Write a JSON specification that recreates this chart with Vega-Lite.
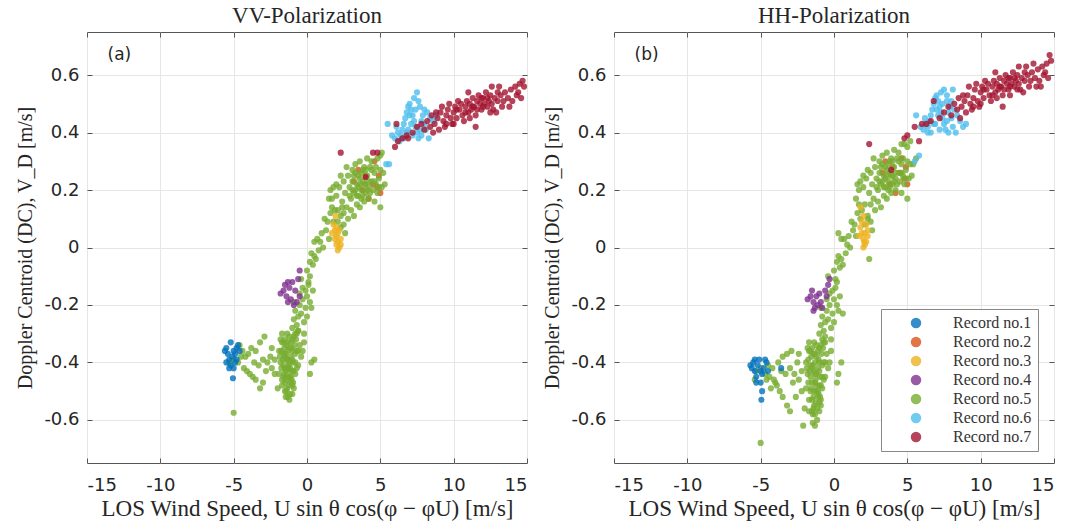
{
"$schema": "https://vega.github.io/schema/vega-lite/v6.json",
"padding": {"left": 15, "top": 4, "right": 5, "bottom": 3},
"spacing": 14,
"datasets": {
"vv": [
{"r":2,"x":3.5,"y":0.27},{"r":2,"x":4.0,"y":0.25},{"r":2,"x":4.5,"y":0.22},{"r":2,"x":4.8,"y":0.21},{"r":2,"x":5.0,"y":0.19},{"r":2,"x":4.6,"y":0.30},{"r":2,"x":3.8,"y":0.2},{"r":2,"x":4.2,"y":0.17},{"r":2,"x":3.2,"y":0.23},{"r":2,"x":4.9,"y":0.25},
{"r":5,"x":-5.3,"y":-0.40},{"r":5,"x":-5.0,"y":-0.39},{"r":5,"x":-4.7,"y":-0.40},{"r":5,"x":-4.5,"y":-0.38},{"r":5,"x":-4.4,"y":-0.36},{"r":5,"x":-4.2,"y":-0.38},{"r":5,"x":-4.0,"y":-0.37},{"r":5,"x":-4.3,"y":-0.42},{"r":5,"x":-4.1,"y":-0.43},{"r":5,"x":-3.9,"y":-0.44},{"r":5,"x":-3.7,"y":-0.45},{"r":5,"x":-3.5,"y":-0.46},{"r":5,"x":-3.2,"y":-0.49},{"r":5,"x":-3.0,"y":-0.47},{"r":5,"x":-3.8,"y":-0.35},{"r":5,"x":-3.5,"y":-0.36},{"r":5,"x":-3.2,"y":-0.33},{"r":5,"x":-2.9,"y":-0.31},{"r":5,"x":-3.0,"y":-0.39},{"r":5,"x":-2.7,"y":-0.40},{"r":5,"x":-2.5,"y":-0.38},{"r":5,"x":-2.8,"y":-0.43},{"r":5,"x":-3.3,"y":-0.41},{"r":5,"x":-3.6,"y":-0.40},{"r":5,"x":-2.4,"y":-0.35},{"r":5,"x":-2.2,"y":-0.44},{"r":5,"x":-2.0,"y":-0.49},{"r":5,"x":-4.6,"y":-0.34},{"r":5,"x":-5.0,"y":-0.575},
{"r":5,"x":-1.9,"y":-0.36},{"r":5,"x":-1.8,"y":-0.40},{"r":5,"x":-1.7,"y":-0.33},{"r":5,"x":-1.6,"y":-0.45},{"r":5,"x":-1.5,"y":-0.38},{"r":5,"x":-1.4,"y":-0.50},{"r":5,"x":-1.3,"y":-0.42},{"r":5,"x":-1.2,"y":-0.35},{"r":5,"x":-1.1,"y":-0.47},{"r":5,"x":-1.0,"y":-0.39},{"r":5,"x":-0.9,"y":-0.31},{"r":5,"x":-0.8,"y":-0.44},{"r":5,"x":-0.7,"y":-0.36},{"r":5,"x":-0.6,"y":-0.29},{"r":5,"x":-1.9,"y":-0.44},{"r":5,"x":-1.8,"y":-0.32},{"r":5,"x":-1.7,"y":-0.48},{"r":5,"x":-1.6,"y":-0.37},{"r":5,"x":-1.5,"y":-0.42},{"r":5,"x":-1.4,"y":-0.34},{"r":5,"x":-1.3,"y":-0.52},{"r":5,"x":-1.2,"y":-0.45},{"r":5,"x":-1.1,"y":-0.38},{"r":5,"x":-1.0,"y":-0.43},{"r":5,"x":-0.9,"y":-0.49},{"r":5,"x":-0.8,"y":-0.37},{"r":5,"x":-0.7,"y":-0.42},{"r":5,"x":-1.6,"y":-0.41},{"r":5,"x":-1.5,"y":-0.47},{"r":5,"x":-1.4,"y":-0.39},{"r":5,"x":-1.3,"y":-0.36},{"r":5,"x":-1.2,"y":-0.40},{"r":5,"x":-1.1,"y":-0.33},{"r":5,"x":-1.0,"y":-0.51},{"r":5,"x":-1.5,"y":-0.32},{"r":5,"x":-1.35,"y":-0.45},{"r":5,"x":-1.25,"y":-0.48},{"r":5,"x":-1.45,"y":-0.43},{"r":5,"x":-1.15,"y":-0.42},{"r":5,"x":-1.05,"y":-0.46},{"r":5,"x":-0.95,"y":-0.40},{"r":5,"x":-1.65,"y":-0.39},{"r":5,"x":-1.75,"y":-0.36},{"r":5,"x":-1.55,"y":-0.35},{"r":5,"x":-1.2,"y":-0.53},{"r":5,"x":-1.35,"y":-0.30},{"r":5,"x":-0.85,"y":-0.34},{"r":5,"x":-0.75,"y":-0.32},{"r":5,"x":-0.5,"y":-0.34},{"r":5,"x":-0.3,"y":-0.36},{"r":5,"x":-0.2,"y":-0.33},{"r":5,"x":-0.4,"y":-0.38},{"r":5,"x":0.3,"y":-0.40},{"r":5,"x":0.5,"y":-0.39},{"r":5,"x":0.2,"y":-0.44},{"r":5,"x":-0.6,"y":-0.41},{"r":5,"x":-2.2,"y":-0.39},{"r":5,"x":-2.4,"y":-0.42},{"r":5,"x":-1.7,"y":-0.46},{"r":5,"x":-1.0,"y":-0.36},
{"r":5,"x":-1.45,"y":-0.37},{"r":5,"x":-1.25,"y":-0.41},{"r":5,"x":-1.05,"y":-0.35},{"r":5,"x":-1.55,"y":-0.44},{"r":5,"x":-1.35,"y":-0.49},{"r":5,"x":-1.15,"y":-0.51},{"r":5,"x":-0.95,"y":-0.47},{"r":5,"x":-1.75,"y":-0.42},{"r":5,"x":-1.85,"y":-0.38},{"r":5,"x":-1.6,"y":-0.33},{"r":5,"x":-1.3,"y":-0.39},{"r":5,"x":-1.1,"y":-0.45},{"r":5,"x":-1.4,"y":-0.46},{"r":5,"x":-1.2,"y":-0.43},{"r":5,"x":-1.0,"y":-0.32},{"r":5,"x":-0.8,"y":-0.40},{"r":5,"x":-1.5,"y":-0.50},{"r":5,"x":-1.3,"y":-0.33},{"r":5,"x":-0.9,"y":-0.43},{"r":5,"x":-1.7,"y":-0.30},{"r":5,"x":-1.2,"y":-0.31},{"r":5,"x":-1.45,"y":-0.52},{"r":5,"x":-0.7,"y":-0.30},{"r":5,"x":-0.6,"y":-0.36},{"r":5,"x":-1.0,"y":-0.48},
{"r":5,"x":-1.0,"y":-0.28},{"r":5,"x":-0.9,"y":-0.25},{"r":5,"x":-0.8,"y":-0.22},{"r":5,"x":-0.7,"y":-0.27},{"r":5,"x":-0.6,"y":-0.24},{"r":5,"x":-0.5,"y":-0.20},{"r":5,"x":-0.4,"y":-0.23},{"r":5,"x":-0.3,"y":-0.18},{"r":5,"x":-0.2,"y":-0.26},{"r":5,"x":-0.1,"y":-0.21},{"r":5,"x":0.0,"y":-0.17},{"r":5,"x":0.1,"y":-0.13},{"r":5,"x":0.2,"y":-0.19},{"r":5,"x":-0.3,"y":-0.14},{"r":5,"x":-0.5,"y":-0.16},{"r":5,"x":-0.6,"y":-0.29},{"r":5,"x":-0.2,"y":-0.30},{"r":5,"x":0.0,"y":-0.24},{"r":5,"x":-0.8,"y":-0.30},{"r":5,"x":0.3,"y":-0.21},{"r":5,"x":-0.4,"y":-0.11},{"r":5,"x":-0.9,"y":-0.19},{"r":5,"x":-0.1,"y":-0.15},{"r":5,"x":0.4,"y":-0.15},{"r":5,"x":0.2,"y":-0.10},
{"r":5,"x":0.0,"y":-0.08},{"r":5,"x":0.2,"y":-0.05},{"r":5,"x":0.3,"y":-0.02},{"r":5,"x":0.5,"y":-0.03},{"r":5,"x":0.4,"y":-0.06},{"r":5,"x":0.6,"y":-0.04},{"r":5,"x":0.8,"y":-0.01},{"r":5,"x":0.7,"y":0.03},{"r":5,"x":0.9,"y":0.02},{"r":5,"x":1.0,"y":0.05},{"r":5,"x":1.1,"y":0.0},{"r":5,"x":1.3,"y":0.06},{"r":5,"x":1.4,"y":0.09},{"r":5,"x":1.5,"y":0.03},{"r":5,"x":1.2,"y":0.10},{"r":5,"x":1.6,"y":0.12},{"r":5,"x":1.7,"y":0.14},{"r":5,"x":1.8,"y":0.09},{"r":5,"x":1.9,"y":0.13},{"r":5,"x":2.1,"y":0.09},{"r":5,"x":2.3,"y":0.11},{"r":5,"x":2.5,"y":0.08},{"r":5,"x":2.6,"y":0.05},{"r":5,"x":0.5,"y":0.02},{"r":5,"x":0.1,"y":-0.12},{"r":5,"x":2.4,"y":0.14},{"r":5,"x":1.5,"y":0.17},
{"r":5,"x":1.6,"y":0.20},{"r":5,"x":1.7,"y":0.17},{"r":5,"x":2.0,"y":0.18},{"r":5,"x":2.2,"y":0.21},{"r":5,"x":2.4,"y":0.16},{"r":5,"x":2.5,"y":0.23},{"r":5,"x":2.6,"y":0.19},{"r":5,"x":2.7,"y":0.14},{"r":5,"x":2.8,"y":0.25},{"r":5,"x":2.9,"y":0.21},{"r":5,"x":3.0,"y":0.17},{"r":5,"x":3.1,"y":0.23},{"r":5,"x":3.2,"y":0.19},{"r":5,"x":3.3,"y":0.26},{"r":5,"x":3.4,"y":0.22},{"r":5,"x":3.5,"y":0.18},{"r":5,"x":3.6,"y":0.24},{"r":5,"x":3.7,"y":0.20},{"r":5,"x":3.8,"y":0.27},{"r":5,"x":3.9,"y":0.22},{"r":5,"x":4.0,"y":0.19},{"r":5,"x":4.1,"y":0.25},{"r":5,"x":4.2,"y":0.21},{"r":5,"x":4.3,"y":0.28},{"r":5,"x":4.4,"y":0.23},{"r":5,"x":4.5,"y":0.20},{"r":5,"x":4.6,"y":0.26},{"r":5,"x":4.7,"y":0.22},{"r":5,"x":4.8,"y":0.19},{"r":5,"x":4.9,"y":0.24},{"r":5,"x":5.0,"y":0.27},{"r":5,"x":5.1,"y":0.21},{"r":5,"x":5.2,"y":0.26},{"r":5,"x":3.0,"y":0.13},{"r":5,"x":3.2,"y":0.11},{"r":5,"x":3.4,"y":0.15},{"r":5,"x":2.8,"y":0.10},{"r":5,"x":3.6,"y":0.14},{"r":5,"x":3.9,"y":0.16},{"r":5,"x":4.2,"y":0.17},{"r":5,"x":4.6,"y":0.16},{"r":5,"x":5.0,"y":0.14},{"r":5,"x":5.3,"y":0.22},{"r":5,"x":2.5,"y":0.12},{"r":5,"x":3.3,"y":0.29},{"r":5,"x":3.6,"y":0.30},{"r":5,"x":4.1,"y":0.31},{"r":5,"x":4.4,"y":0.30},{"r":5,"x":4.8,"y":0.31},{"r":5,"x":5.0,"y":0.32},{"r":5,"x":5.1,"y":0.33},{"r":5,"x":3.1,"y":0.27},{"r":5,"x":2.7,"y":0.28},{"r":5,"x":2.3,"y":0.25},{"r":5,"x":1.8,"y":0.21},{"r":5,"x":3.5,"y":0.21},{"r":5,"x":3.8,"y":0.23},{"r":5,"x":4.0,"y":0.22},{"r":5,"x":3.7,"y":0.17},{"r":5,"x":4.3,"y":0.19},{"r":5,"x":3.9,"y":0.28},{"r":5,"x":4.7,"y":0.28},{"r":5,"x":2.1,"y":0.13},{"r":5,"x":2.3,"y":0.07},{"r":5,"x":2.0,"y":0.22},
{"r":5,"x":3.3,"y":0.20},{"r":5,"x":3.5,"y":0.25},{"r":5,"x":3.7,"y":0.26},{"r":5,"x":4.0,"y":0.27},{"r":5,"x":4.2,"y":0.23},{"r":5,"x":4.4,"y":0.27},{"r":5,"x":3.8,"y":0.18},{"r":5,"x":3.4,"y":0.18},{"r":5,"x":3.1,"y":0.20},{"r":5,"x":2.9,"y":0.18},{"r":5,"x":4.6,"y":0.23},{"r":5,"x":4.9,"y":0.21},{"r":5,"x":3.6,"y":0.22},{"r":5,"x":4.1,"y":0.20},{"r":5,"x":3.2,"y":0.25},
{"r":1,"x":-5.6,"y":-0.36},{"r":1,"x":-5.5,"y":-0.35},{"r":1,"x":-5.4,"y":-0.37},{"r":1,"x":-5.3,"y":-0.39},{"r":1,"x":-5.2,"y":-0.41},{"r":1,"x":-5.1,"y":-0.38},{"r":1,"x":-5.0,"y":-0.36},{"r":1,"x":-4.9,"y":-0.37},{"r":1,"x":-4.8,"y":-0.35},{"r":1,"x":-4.7,"y":-0.34},{"r":1,"x":-4.6,"y":-0.36},{"r":1,"x":-5.0,"y":-0.42},{"r":1,"x":-5.3,"y":-0.42},{"r":1,"x":-5.5,"y":-0.40},{"r":1,"x":-4.9,"y":-0.40},{"r":1,"x":-5.05,"y":-0.455},{"r":1,"x":-5.2,"y":-0.33},{"r":1,"x":-4.8,"y":-0.39},
{"r":3,"x":1.8,"y":0.08},{"r":3,"x":1.9,"y":0.06},{"r":3,"x":2.0,"y":0.04},{"r":3,"x":2.1,"y":0.02},{"r":3,"x":2.2,"y":0.0},{"r":3,"x":2.0,"y":0.01},{"r":3,"x":2.1,"y":0.05},{"r":3,"x":1.9,"y":0.03},{"r":3,"x":2.3,"y":0.03},{"r":3,"x":2.2,"y":0.06},{"r":3,"x":2.0,"y":0.07},{"r":3,"x":2.1,"y":-0.01},{"r":3,"x":1.7,"y":0.05},{"r":3,"x":2.3,"y":0.01},{"r":3,"x":1.95,"y":0.11},
{"r":4,"x":-1.8,"y":-0.16},{"r":4,"x":-1.6,"y":-0.15},{"r":4,"x":-1.5,"y":-0.13},{"r":4,"x":-1.4,"y":-0.17},{"r":4,"x":-1.3,"y":-0.19},{"r":4,"x":-1.2,"y":-0.14},{"r":4,"x":-1.1,"y":-0.18},{"r":4,"x":-1.0,"y":-0.12},{"r":4,"x":-0.9,"y":-0.2},{"r":4,"x":-0.8,"y":-0.15},{"r":4,"x":-0.6,"y":-0.11},{"r":4,"x":-0.5,"y":-0.08},{"r":4,"x":-0.7,"y":-0.19},{"r":4,"x":-1.3,"y":-0.12},{"r":4,"x":-0.5,"y":-0.17},
{"r":6,"x":5.5,"y":0.43},{"r":6,"x":5.8,"y":0.39},{"r":6,"x":6.0,"y":0.38},{"r":6,"x":6.2,"y":0.40},{"r":6,"x":6.3,"y":0.37},{"r":6,"x":6.5,"y":0.41},{"r":6,"x":6.6,"y":0.43},{"r":6,"x":6.7,"y":0.45},{"r":6,"x":6.8,"y":0.47},{"r":6,"x":6.9,"y":0.49},{"r":6,"x":7.0,"y":0.50},{"r":6,"x":7.1,"y":0.48},{"r":6,"x":7.2,"y":0.46},{"r":6,"x":7.3,"y":0.44},{"r":6,"x":7.4,"y":0.42},{"r":6,"x":7.5,"y":0.40},{"r":6,"x":7.6,"y":0.38},{"r":6,"x":7.7,"y":0.41},{"r":6,"x":7.8,"y":0.44},{"r":6,"x":7.9,"y":0.46},{"r":6,"x":8.0,"y":0.48},{"r":6,"x":8.2,"y":0.47},{"r":6,"x":8.4,"y":0.45},{"r":6,"x":8.6,"y":0.44},{"r":6,"x":8.8,"y":0.46},{"r":6,"x":7.5,"y":0.54},{"r":6,"x":7.3,"y":0.52},{"r":6,"x":7.6,"y":0.51},{"r":6,"x":7.0,"y":0.46},{"r":6,"x":6.9,"y":0.41},{"r":6,"x":7.2,"y":0.39},{"r":6,"x":7.8,"y":0.39},{"r":6,"x":8.1,"y":0.41},{"r":6,"x":8.3,"y":0.38},{"r":6,"x":6.4,"y":0.39},{"r":6,"x":6.1,"y":0.42},{"r":6,"x":7.4,"y":0.48},{"r":6,"x":7.7,"y":0.49},{"r":6,"x":8.0,"y":0.43},{"r":6,"x":6.6,"y":0.38},{"r":6,"x":5.6,"y":0.29},{"r":6,"x":5.4,"y":0.29},{"r":6,"x":7.1,"y":0.43},{"r":6,"x":6.8,"y":0.40},
{"r":7,"x":2.3,"y":0.33},{"r":7,"x":4.5,"y":0.33},{"r":7,"x":4.8,"y":0.33},{"r":7,"x":4.0,"y":0.245},{"r":7,"x":6.0,"y":0.35},{"r":7,"x":6.2,"y":0.37},{"r":7,"x":6.5,"y":0.38},{"r":7,"x":6.9,"y":0.38},
{"r":7,"x":6.1,"y":0.43},{"r":7,"x":6.8,"y":0.39},{"r":7,"x":7.2,"y":0.40},{"r":7,"x":7.5,"y":0.42},{"r":7,"x":7.8,"y":0.43},{"r":7,"x":8.0,"y":0.41},{"r":7,"x":8.2,"y":0.44},{"r":7,"x":8.4,"y":0.42},{"r":7,"x":8.5,"y":0.46},{"r":7,"x":8.7,"y":0.43},{"r":7,"x":8.9,"y":0.45},{"r":7,"x":9.0,"y":0.41},{"r":7,"x":9.1,"y":0.47},{"r":7,"x":9.3,"y":0.44},{"r":7,"x":9.4,"y":0.42},{"r":7,"x":9.5,"y":0.46},{"r":7,"x":9.6,"y":0.48},{"r":7,"x":9.8,"y":0.45},{"r":7,"x":9.9,"y":0.43},{"r":7,"x":10.0,"y":0.47},{"r":7,"x":10.1,"y":0.49},{"r":7,"x":10.2,"y":0.45},{"r":7,"x":10.4,"y":0.48},{"r":7,"x":10.5,"y":0.50},{"r":7,"x":10.6,"y":0.46},{"r":7,"x":10.7,"y":0.44},{"r":7,"x":10.8,"y":0.49},{"r":7,"x":10.9,"y":0.51},{"r":7,"x":11.0,"y":0.47},{"r":7,"x":11.1,"y":0.50},{"r":7,"x":11.2,"y":0.48},{"r":7,"x":11.3,"y":0.52},{"r":7,"x":11.4,"y":0.49},{"r":7,"x":11.5,"y":0.46},{"r":7,"x":11.6,"y":0.51},{"r":7,"x":11.7,"y":0.53},{"r":7,"x":11.8,"y":0.50},{"r":7,"x":11.9,"y":0.48},{"r":7,"x":12.0,"y":0.52},{"r":7,"x":12.1,"y":0.50},{"r":7,"x":12.2,"y":0.54},{"r":7,"x":12.3,"y":0.49},{"r":7,"x":12.4,"y":0.51},{"r":7,"x":12.5,"y":0.53},{"r":7,"x":12.6,"y":0.50},{"r":7,"x":12.7,"y":0.48},{"r":7,"x":12.8,"y":0.52},{"r":7,"x":13.0,"y":0.51},{"r":7,"x":13.2,"y":0.53},{"r":7,"x":13.3,"y":0.49},{"r":7,"x":13.5,"y":0.54},{"r":7,"x":13.7,"y":0.52},{"r":7,"x":13.9,"y":0.55},{"r":7,"x":14.0,"y":0.51},{"r":7,"x":14.2,"y":0.56},{"r":7,"x":14.3,"y":0.53},{"r":7,"x":14.5,"y":0.57},{"r":7,"x":14.7,"y":0.58},{"r":7,"x":14.8,"y":0.56},{"r":7,"x":14.6,"y":0.52},{"r":7,"x":13.1,"y":0.56},{"r":7,"x":12.9,"y":0.47},{"r":7,"x":11.5,"y":0.42},{"r":7,"x":10.3,"y":0.51},{"r":7,"x":9.2,"y":0.49},{"r":7,"x":8.6,"y":0.40},{"r":7,"x":12.6,"y":0.56},{"r":7,"x":11.0,"y":0.54},{"r":7,"x":10.0,"y":0.43},{"r":7,"x":9.7,"y":0.50},
{"r":7,"x":10.2,"y":0.48},{"r":7,"x":10.8,"y":0.47},{"r":7,"x":11.3,"y":0.49},{"r":7,"x":11.9,"y":0.52},{"r":7,"x":12.5,"y":0.47},{"r":7,"x":13.4,"y":0.51},{"r":7,"x":13.8,"y":0.49},{"r":7,"x":12.3,"y":0.52},{"r":7,"x":11.6,"y":0.48},{"r":7,"x":9.5,"y":0.43},{"r":7,"x":8.8,"y":0.47},{"r":7,"x":13.0,"y":0.54},{"r":7,"x":14.4,"y":0.54},{"r":7,"x":12.0,"y":0.49},{"r":7,"x":11.1,"y":0.45}
],
"hh": [
{"r":2,"x":3.5,"y":0.30},{"r":2,"x":4.0,"y":0.28},{"r":2,"x":4.5,"y":0.26},{"r":2,"x":4.8,"y":0.24},{"r":2,"x":5.0,"y":0.22},{"r":2,"x":4.6,"y":0.31},{"r":2,"x":3.8,"y":0.22},{"r":2,"x":4.2,"y":0.19},{"r":2,"x":3.3,"y":0.26},{"r":2,"x":4.9,"y":0.28},
{"r":5,"x":-5.3,"y":-0.43},{"r":5,"x":-5.0,"y":-0.42},{"r":5,"x":-4.7,"y":-0.44},{"r":5,"x":-4.5,"y":-0.41},{"r":5,"x":-4.4,"y":-0.45},{"r":5,"x":-4.2,"y":-0.42},{"r":5,"x":-4.0,"y":-0.47},{"r":5,"x":-4.3,"y":-0.49},{"r":5,"x":-4.1,"y":-0.46},{"r":5,"x":-3.9,"y":-0.48},{"r":5,"x":-3.7,"y":-0.50},{"r":5,"x":-3.5,"y":-0.52},{"r":5,"x":-3.2,"y":-0.55},{"r":5,"x":-3.0,"y":-0.57},{"r":5,"x":-3.8,"y":-0.40},{"r":5,"x":-3.5,"y":-0.38},{"r":5,"x":-3.2,"y":-0.37},{"r":5,"x":-2.9,"y":-0.36},{"r":5,"x":-3.0,"y":-0.42},{"r":5,"x":-2.7,"y":-0.44},{"r":5,"x":-2.5,"y":-0.40},{"r":5,"x":-2.8,"y":-0.47},{"r":5,"x":-3.3,"y":-0.44},{"r":5,"x":-3.6,"y":-0.43},{"r":5,"x":-2.4,"y":-0.37},{"r":5,"x":-2.2,"y":-0.50},{"r":5,"x":-2.0,"y":-0.56},{"r":5,"x":-4.6,"y":-0.46},{"r":5,"x":-5.4,"y":-0.46},{"r":5,"x":-5.0,"y":-0.68},{"r":5,"x":-2.6,"y":-0.52},{"r":5,"x":-2.1,"y":-0.62},
{"r":5,"x":-1.9,"y":-0.40},{"r":5,"x":-1.8,"y":-0.44},{"r":5,"x":-1.7,"y":-0.36},{"r":5,"x":-1.6,"y":-0.50},{"r":5,"x":-1.5,"y":-0.42},{"r":5,"x":-1.4,"y":-0.56},{"r":5,"x":-1.3,"y":-0.47},{"r":5,"x":-1.2,"y":-0.38},{"r":5,"x":-1.1,"y":-0.52},{"r":5,"x":-1.0,"y":-0.43},{"r":5,"x":-0.9,"y":-0.34},{"r":5,"x":-0.8,"y":-0.49},{"r":5,"x":-0.7,"y":-0.40},{"r":5,"x":-0.6,"y":-0.33},{"r":5,"x":-1.9,"y":-0.49},{"r":5,"x":-1.8,"y":-0.35},{"r":5,"x":-1.7,"y":-0.53},{"r":5,"x":-1.6,"y":-0.41},{"r":5,"x":-1.5,"y":-0.47},{"r":5,"x":-1.4,"y":-0.37},{"r":5,"x":-1.3,"y":-0.58},{"r":5,"x":-1.2,"y":-0.50},{"r":5,"x":-1.1,"y":-0.42},{"r":5,"x":-1.0,"y":-0.48},{"r":5,"x":-0.9,"y":-0.55},{"r":5,"x":-0.8,"y":-0.41},{"r":5,"x":-0.7,"y":-0.46},{"r":5,"x":-1.6,"y":-0.45},{"r":5,"x":-1.5,"y":-0.53},{"r":5,"x":-1.4,"y":-0.43},{"r":5,"x":-1.3,"y":-0.40},{"r":5,"x":-1.2,"y":-0.44},{"r":5,"x":-1.1,"y":-0.36},{"r":5,"x":-1.0,"y":-0.57},{"r":5,"x":-1.5,"y":-0.35},{"r":5,"x":-1.35,"y":-0.50},{"r":5,"x":-1.25,"y":-0.54},{"r":5,"x":-1.45,"y":-0.61},{"r":5,"x":-1.15,"y":-0.60},{"r":5,"x":-1.05,"y":-0.51},{"r":5,"x":-0.95,"y":-0.45},{"r":5,"x":-1.65,"y":-0.43},{"r":5,"x":-1.75,"y":-0.39},{"r":5,"x":-1.55,"y":-0.38},{"r":5,"x":-1.3,"y":-0.62},{"r":5,"x":-1.35,"y":-0.33},{"r":5,"x":-0.85,"y":-0.37},{"r":5,"x":-0.75,"y":-0.35},{"r":5,"x":-0.5,"y":-0.37},{"r":5,"x":-0.3,"y":-0.40},{"r":5,"x":-0.2,"y":-0.36},{"r":5,"x":-0.4,"y":-0.42},{"r":5,"x":0.3,"y":-0.44},{"r":5,"x":0.5,"y":-0.40},{"r":5,"x":0.2,"y":-0.47},{"r":5,"x":-0.6,"y":-0.45},{"r":5,"x":-2.2,"y":-0.43},{"r":5,"x":-2.4,"y":-0.46},{"r":5,"x":-1.7,"y":-0.57},{"r":5,"x":-1.0,"y":-0.40},{"r":5,"x":-0.9,"y":-0.53},
{"r":5,"x":-1.45,"y":-0.41},{"r":5,"x":-1.25,"y":-0.46},{"r":5,"x":-1.05,"y":-0.39},{"r":5,"x":-1.55,"y":-0.49},{"r":5,"x":-1.35,"y":-0.55},{"r":5,"x":-1.15,"y":-0.56},{"r":5,"x":-0.95,"y":-0.52},{"r":5,"x":-1.75,"y":-0.47},{"r":5,"x":-1.85,"y":-0.42},{"r":5,"x":-1.6,"y":-0.36},{"r":5,"x":-1.3,"y":-0.44},{"r":5,"x":-1.1,"y":-0.50},{"r":5,"x":-1.4,"y":-0.52},{"r":5,"x":-1.2,"y":-0.48},{"r":5,"x":-1.0,"y":-0.35},{"r":5,"x":-0.8,"y":-0.45},{"r":5,"x":-1.5,"y":-0.57},{"r":5,"x":-1.3,"y":-0.37},{"r":5,"x":-0.9,"y":-0.48},{"r":5,"x":-1.7,"y":-0.33},{"r":5,"x":-1.2,"y":-0.34},{"r":5,"x":-1.45,"y":-0.58},{"r":5,"x":-0.7,"y":-0.33},{"r":5,"x":-0.6,"y":-0.40},{"r":5,"x":-1.0,"y":-0.54},
{"r":5,"x":-1.0,"y":-0.30},{"r":5,"x":-0.9,"y":-0.27},{"r":5,"x":-0.8,"y":-0.24},{"r":5,"x":-0.7,"y":-0.29},{"r":5,"x":-0.6,"y":-0.26},{"r":5,"x":-0.5,"y":-0.22},{"r":5,"x":-0.4,"y":-0.25},{"r":5,"x":-0.3,"y":-0.20},{"r":5,"x":-0.2,"y":-0.28},{"r":5,"x":-0.1,"y":-0.23},{"r":5,"x":0.0,"y":-0.18},{"r":5,"x":0.1,"y":-0.14},{"r":5,"x":0.2,"y":-0.20},{"r":5,"x":-0.3,"y":-0.16},{"r":5,"x":-0.5,"y":-0.18},{"r":5,"x":-0.6,"y":-0.31},{"r":5,"x":-0.2,"y":-0.32},{"r":5,"x":0.0,"y":-0.26},{"r":5,"x":-0.8,"y":-0.32},{"r":5,"x":0.3,"y":-0.22},{"r":5,"x":-0.4,"y":-0.10},{"r":5,"x":-0.9,"y":-0.21},{"r":5,"x":-0.1,"y":-0.15},{"r":5,"x":0.4,"y":-0.17},{"r":5,"x":0.2,"y":-0.12},{"r":5,"x":0.6,"y":-0.23},
{"r":5,"x":0.0,"y":-0.08},{"r":5,"x":0.2,"y":-0.05},{"r":5,"x":0.3,"y":-0.03},{"r":5,"x":0.5,"y":-0.04},{"r":5,"x":0.4,"y":-0.07},{"r":5,"x":0.6,"y":-0.06},{"r":5,"x":0.8,"y":-0.02},{"r":5,"x":0.7,"y":0.03},{"r":5,"x":0.9,"y":0.01},{"r":5,"x":1.0,"y":0.04},{"r":5,"x":1.1,"y":0.0},{"r":5,"x":1.3,"y":0.06},{"r":5,"x":1.4,"y":0.08},{"r":5,"x":1.5,"y":0.04},{"r":5,"x":1.2,"y":0.09},{"r":5,"x":1.6,"y":0.12},{"r":5,"x":1.7,"y":0.15},{"r":5,"x":1.8,"y":0.10},{"r":5,"x":1.9,"y":0.13},{"r":5,"x":2.1,"y":0.08},{"r":5,"x":2.3,"y":0.11},{"r":5,"x":2.5,"y":0.09},{"r":5,"x":2.6,"y":0.06},{"r":5,"x":0.5,"y":0.03},{"r":5,"x":0.1,"y":-0.11},{"r":5,"x":2.4,"y":-0.04},{"r":5,"x":1.5,"y":0.17},{"r":5,"x":0.3,"y":0.05},
{"r":5,"x":1.6,"y":0.22},{"r":5,"x":1.7,"y":0.20},{"r":5,"x":2.0,"y":0.21},{"r":5,"x":2.2,"y":0.24},{"r":5,"x":2.4,"y":0.19},{"r":5,"x":2.5,"y":0.26},{"r":5,"x":2.6,"y":0.22},{"r":5,"x":2.7,"y":0.17},{"r":5,"x":2.8,"y":0.28},{"r":5,"x":2.9,"y":0.24},{"r":5,"x":3.0,"y":0.20},{"r":5,"x":3.1,"y":0.26},{"r":5,"x":3.2,"y":0.22},{"r":5,"x":3.3,"y":0.29},{"r":5,"x":3.4,"y":0.25},{"r":5,"x":3.5,"y":0.21},{"r":5,"x":3.6,"y":0.27},{"r":5,"x":3.7,"y":0.23},{"r":5,"x":3.8,"y":0.30},{"r":5,"x":3.9,"y":0.25},{"r":5,"x":4.0,"y":0.22},{"r":5,"x":4.1,"y":0.28},{"r":5,"x":4.2,"y":0.24},{"r":5,"x":4.3,"y":0.31},{"r":5,"x":4.4,"y":0.26},{"r":5,"x":4.5,"y":0.23},{"r":5,"x":4.6,"y":0.29},{"r":5,"x":4.7,"y":0.25},{"r":5,"x":4.8,"y":0.22},{"r":5,"x":4.9,"y":0.27},{"r":5,"x":5.0,"y":0.30},{"r":5,"x":5.1,"y":0.24},{"r":5,"x":5.2,"y":0.29},{"r":5,"x":3.0,"y":0.16},{"r":5,"x":3.2,"y":0.14},{"r":5,"x":3.4,"y":0.18},{"r":5,"x":2.8,"y":0.13},{"r":5,"x":3.6,"y":0.17},{"r":5,"x":3.9,"y":0.19},{"r":5,"x":4.2,"y":0.20},{"r":5,"x":4.6,"y":0.19},{"r":5,"x":5.0,"y":0.17},{"r":5,"x":5.3,"y":0.25},{"r":5,"x":2.5,"y":0.15},{"r":5,"x":3.3,"y":0.32},{"r":5,"x":3.6,"y":0.33},{"r":5,"x":4.1,"y":0.34},{"r":5,"x":4.4,"y":0.33},{"r":5,"x":4.8,"y":0.36},{"r":5,"x":5.0,"y":0.35},{"r":5,"x":5.2,"y":0.37},{"r":5,"x":3.1,"y":0.30},{"r":5,"x":2.7,"y":0.31},{"r":5,"x":2.3,"y":0.27},{"r":5,"x":1.8,"y":0.23},{"r":5,"x":3.5,"y":0.24},{"r":5,"x":3.8,"y":0.26},{"r":5,"x":4.0,"y":0.25},{"r":5,"x":3.7,"y":0.20},{"r":5,"x":4.3,"y":0.22},{"r":5,"x":3.9,"y":0.31},{"r":5,"x":4.7,"y":0.31},{"r":5,"x":2.1,"y":0.15},{"r":5,"x":2.3,"y":0.10},{"r":5,"x":2.0,"y":0.25},{"r":5,"x":5.6,"y":0.31},{"r":5,"x":5.4,"y":0.29},{"r":5,"x":4.6,"y":0.36},
{"r":5,"x":3.3,"y":0.23},{"r":5,"x":3.5,"y":0.28},{"r":5,"x":3.7,"y":0.29},{"r":5,"x":4.0,"y":0.30},{"r":5,"x":4.2,"y":0.26},{"r":5,"x":4.4,"y":0.30},{"r":5,"x":3.8,"y":0.21},{"r":5,"x":3.4,"y":0.21},{"r":5,"x":3.1,"y":0.23},{"r":5,"x":2.9,"y":0.21},{"r":5,"x":4.6,"y":0.26},{"r":5,"x":4.9,"y":0.24},{"r":5,"x":3.6,"y":0.25},{"r":5,"x":4.1,"y":0.23},{"r":5,"x":3.2,"y":0.28},
{"r":1,"x":-5.7,"y":-0.41},{"r":1,"x":-5.6,"y":-0.42},{"r":1,"x":-5.5,"y":-0.40},{"r":1,"x":-5.4,"y":-0.43},{"r":1,"x":-5.3,"y":-0.45},{"r":1,"x":-5.2,"y":-0.41},{"r":1,"x":-5.1,"y":-0.39},{"r":1,"x":-5.0,"y":-0.43},{"r":1,"x":-4.9,"y":-0.44},{"r":1,"x":-4.8,"y":-0.42},{"r":1,"x":-4.7,"y":-0.39},{"r":1,"x":-4.6,"y":-0.40},{"r":1,"x":-5.0,"y":-0.47},{"r":1,"x":-4.9,"y":-0.50},{"r":1,"x":-5.3,"y":-0.47},{"r":1,"x":-4.95,"y":-0.53},{"r":1,"x":-4.5,"y":-0.43},{"r":1,"x":-3.6,"y":-0.42},{"r":1,"x":-5.4,"y":-0.39},
{"r":3,"x":1.8,"y":0.07},{"r":3,"x":1.9,"y":0.05},{"r":3,"x":2.0,"y":0.03},{"r":3,"x":2.1,"y":0.01},{"r":3,"x":2.2,"y":0.02},{"r":3,"x":2.0,"y":0.0},{"r":3,"x":2.1,"y":0.05},{"r":3,"x":1.9,"y":0.09},{"r":3,"x":2.3,"y":0.04},{"r":3,"x":2.2,"y":0.08},{"r":3,"x":2.0,"y":0.11},{"r":3,"x":1.8,"y":0.14},{"r":3,"x":1.7,"y":0.04},{"r":3,"x":2.3,"y":0.06},{"r":3,"x":2.05,"y":0.02},
{"r":4,"x":-1.8,"y":-0.18},{"r":4,"x":-1.6,"y":-0.17},{"r":4,"x":-1.5,"y":-0.15},{"r":4,"x":-1.4,"y":-0.19},{"r":4,"x":-1.3,"y":-0.21},{"r":4,"x":-1.2,"y":-0.17},{"r":4,"x":-1.1,"y":-0.20},{"r":4,"x":-1.0,"y":-0.16},{"r":4,"x":-0.9,"y":-0.19},{"r":4,"x":-0.8,"y":-0.21},{"r":4,"x":-0.6,"y":-0.15},{"r":4,"x":-0.4,"y":-0.13},{"r":4,"x":-0.3,"y":-0.11},{"r":4,"x":-0.5,"y":-0.17},{"r":4,"x":-1.4,"y":-0.22},
{"r":6,"x":5.6,"y":0.46},{"r":6,"x":5.9,"y":0.42},{"r":6,"x":6.1,"y":0.41},{"r":6,"x":6.3,"y":0.43},{"r":6,"x":6.4,"y":0.40},{"r":6,"x":6.5,"y":0.44},{"r":6,"x":6.6,"y":0.46},{"r":6,"x":6.7,"y":0.48},{"r":6,"x":6.8,"y":0.50},{"r":6,"x":6.9,"y":0.52},{"r":6,"x":7.0,"y":0.53},{"r":6,"x":7.1,"y":0.51},{"r":6,"x":7.2,"y":0.49},{"r":6,"x":7.3,"y":0.47},{"r":6,"x":7.4,"y":0.45},{"r":6,"x":7.5,"y":0.43},{"r":6,"x":7.6,"y":0.41},{"r":6,"x":7.7,"y":0.44},{"r":6,"x":7.8,"y":0.47},{"r":6,"x":7.9,"y":0.49},{"r":6,"x":8.0,"y":0.51},{"r":6,"x":8.2,"y":0.48},{"r":6,"x":8.4,"y":0.46},{"r":6,"x":8.6,"y":0.44},{"r":6,"x":8.8,"y":0.42},{"r":6,"x":7.5,"y":0.55},{"r":6,"x":7.3,"y":0.54},{"r":6,"x":7.7,"y":0.53},{"r":6,"x":8.1,"y":0.55},{"r":6,"x":7.0,"y":0.48},{"r":6,"x":6.9,"y":0.43},{"r":6,"x":7.2,"y":0.41},{"r":6,"x":7.8,"y":0.40},{"r":6,"x":8.1,"y":0.42},{"r":6,"x":8.3,"y":0.40},{"r":6,"x":6.4,"y":0.42},{"r":6,"x":6.2,"y":0.45},{"r":6,"x":7.4,"y":0.50},{"r":6,"x":7.7,"y":0.51},{"r":6,"x":8.0,"y":0.45},{"r":6,"x":6.6,"y":0.40},{"r":6,"x":5.8,"y":0.32},{"r":6,"x":5.5,"y":0.30},{"r":6,"x":7.1,"y":0.46},{"r":6,"x":6.8,"y":0.43},{"r":6,"x":9.0,"y":0.43},
{"r":7,"x":2.4,"y":0.36},{"r":7,"x":5.0,"y":0.39},{"r":7,"x":4.8,"y":0.38},{"r":7,"x":3.9,"y":0.27},{"r":7,"x":5.8,"y":0.37},{"r":7,"x":6.0,"y":0.43},{"r":7,"x":6.3,"y":0.43},{"r":7,"x":6.6,"y":0.44},{"r":7,"x":5.5,"y":0.42},
{"r":7,"x":6.8,"y":0.51},{"r":7,"x":7.2,"y":0.45},{"r":7,"x":7.5,"y":0.47},{"r":7,"x":7.8,"y":0.49},{"r":7,"x":8.0,"y":0.46},{"r":7,"x":8.2,"y":0.50},{"r":7,"x":8.4,"y":0.48},{"r":7,"x":8.5,"y":0.52},{"r":7,"x":8.7,"y":0.49},{"r":7,"x":8.9,"y":0.51},{"r":7,"x":9.0,"y":0.47},{"r":7,"x":9.1,"y":0.53},{"r":7,"x":9.3,"y":0.50},{"r":7,"x":9.4,"y":0.48},{"r":7,"x":9.5,"y":0.52},{"r":7,"x":9.6,"y":0.55},{"r":7,"x":9.8,"y":0.51},{"r":7,"x":9.9,"y":0.49},{"r":7,"x":10.0,"y":0.54},{"r":7,"x":10.1,"y":0.56},{"r":7,"x":10.2,"y":0.52},{"r":7,"x":10.4,"y":0.55},{"r":7,"x":10.5,"y":0.57},{"r":7,"x":10.6,"y":0.53},{"r":7,"x":10.7,"y":0.51},{"r":7,"x":10.8,"y":0.56},{"r":7,"x":10.9,"y":0.58},{"r":7,"x":11.0,"y":0.54},{"r":7,"x":11.1,"y":0.57},{"r":7,"x":11.2,"y":0.55},{"r":7,"x":11.3,"y":0.59},{"r":7,"x":11.4,"y":0.56},{"r":7,"x":11.5,"y":0.53},{"r":7,"x":11.6,"y":0.58},{"r":7,"x":11.7,"y":0.60},{"r":7,"x":11.8,"y":0.57},{"r":7,"x":11.9,"y":0.55},{"r":7,"x":12.0,"y":0.59},{"r":7,"x":12.1,"y":0.57},{"r":7,"x":12.2,"y":0.61},{"r":7,"x":12.3,"y":0.56},{"r":7,"x":12.4,"y":0.58},{"r":7,"x":12.5,"y":0.60},{"r":7,"x":12.6,"y":0.57},{"r":7,"x":12.7,"y":0.55},{"r":7,"x":12.8,"y":0.59},{"r":7,"x":13.0,"y":0.58},{"r":7,"x":13.2,"y":0.60},{"r":7,"x":13.3,"y":0.56},{"r":7,"x":13.5,"y":0.61},{"r":7,"x":13.7,"y":0.59},{"r":7,"x":13.9,"y":0.62},{"r":7,"x":14.0,"y":0.58},{"r":7,"x":14.2,"y":0.63},{"r":7,"x":14.3,"y":0.60},{"r":7,"x":14.5,"y":0.64},{"r":7,"x":14.7,"y":0.67},{"r":7,"x":14.8,"y":0.65},{"r":7,"x":14.6,"y":0.59},{"r":7,"x":13.1,"y":0.63},{"r":7,"x":12.9,"y":0.54},{"r":7,"x":11.5,"y":0.49},{"r":7,"x":10.3,"y":0.58},{"r":7,"x":9.2,"y":0.56},{"r":7,"x":8.6,"y":0.45},{"r":7,"x":12.6,"y":0.63},{"r":7,"x":11.0,"y":0.61},{"r":7,"x":10.0,"y":0.50},{"r":7,"x":9.7,"y":0.57},{"r":7,"x":12.0,"y":0.53},{"r":7,"x":13.6,"y":0.64},{"r":7,"x":14.1,"y":0.56},
{"r":7,"x":10.2,"y":0.55},{"r":7,"x":10.8,"y":0.53},{"r":7,"x":11.3,"y":0.56},{"r":7,"x":11.9,"y":0.59},{"r":7,"x":12.5,"y":0.55},{"r":7,"x":13.4,"y":0.58},{"r":7,"x":13.8,"y":0.56},{"r":7,"x":12.3,"y":0.59},{"r":7,"x":11.6,"y":0.55},{"r":7,"x":9.5,"y":0.49},{"r":7,"x":8.8,"y":0.53},{"r":7,"x":13.0,"y":0.61},{"r":7,"x":14.4,"y":0.61},{"r":7,"x":12.0,"y":0.56},{"r":7,"x":11.1,"y":0.52}
]
},
"config": {
  "view": {"stroke": "#555555", "strokeWidth": 1},
  "axis": {
    "domain": false,
    "grid": true,
    "gridColor": "#e6e6e6",
    "gridWidth": 1,
    "tickColor": "#555555",
    "tickSize": -5,
    "labelFont": "DejaVu Sans",
    "labelFontSize": 18,
    "labelColor": "#262626",
    "titleFont": "Liberation Serif",
    "titleFontSize": 20,
    "titleFontWeight": "normal",
    "titleColor": "#262626"
  },
  "title": {"font": "Liberation Serif", "fontSize": 23, "fontWeight": "normal", "color": "#262626", "offset": 4, "frame": "group", "anchor": "middle"},
  "legend": {
    "strokeColor": "#888888",
    "fillColor": "white",
    "padding": 6,
    "symbolType": "circle",
    "symbolSize": 110,
    "labelFont": "Liberation Serif",
    "labelFontSize": 16,
    "labelColor": "#333333",
    "labelOffset": 29,
    "rowPadding": 3,
    "titleOrient": "left",
    "titlePadding": 21,
    "titleFontSize": 11
  }
},
"resolve": {"scale": {"color": "independent"}, "legend": {"color": "independent"}},
"hconcat": [
  {
    "title": "VV-Polarization",
    "width": 440,
    "height": 431,
    "resolve": {"axis": {"x": "independent", "y": "independent"}},
    "layer": [
      {
        "data": {"name": "vv"},
        "mark": {"type": "circle", "size": 38, "opacity": 0.8},
        "encoding": {
          "x": {"field": "x", "type": "quantitative", "scale": {"domain": [-15, 15], "nice": false},
                "axis": {"values": [-15, -10, -5, 0, 5, 10, 15], "labelPadding": 18, "titlePadding": 3, "titleFontSize": 23, "labelExpr": "(datum.value < 0 ? '-' : '') + format(abs(datum.value), 'd')",
                         "title": "LOS Wind Speed, U sin θ cos(φ − φU) [m/s]"}},
          "y": {"field": "y", "type": "quantitative", "scale": {"domain": [-0.75, 0.75], "nice": false},
                "axis": {"values": [-0.6, -0.4, -0.2, 0, 0.2, 0.4, 0.6], "labelPadding": 13, "titlePadding": 8, "labelExpr": "datum.value == 0 ? '0' : (datum.value < 0 ? '-' : '') + format(abs(datum.value), '.1f')",
                         "title": "Doppler Centroid (DC), V_D [m/s]"}},
          "color": {"field": "r", "type": "nominal", "scale": {"domain": [1, 2, 3, 4, 5, 6, 7], "range": ["#0072BD", "#D95319", "#EDB120", "#7E2F8E", "#77AC30", "#4DBEEE", "#A2142F"]}, "legend": null}
        }
      },
      {
        "data": {"values": [{"x": -13.6, "y": 0.67, "t": "(a)"}]},
        "mark": {"type": "text", "align": "left", "baseline": "middle", "font": "DejaVu Sans", "fontSize": 17, "color": "#262626"},
        "encoding": {
          "x": {"field": "x", "type": "quantitative", "axis": {"orient": "top", "values": [-15, -10, -5, 0, 5, 10, 15], "labels": false, "title": null, "grid": false}},
          "y": {"field": "y", "type": "quantitative", "axis": {"orient": "right", "values": [-0.6, -0.4, -0.2, 0, 0.2, 0.4, 0.6], "labels": false, "title": null, "grid": false}},
          "text": {"field": "t"}
        }
      }
    ]
  },
  {
    "title": "HH-Polarization",
    "width": 440,
    "height": 431,
    "resolve": {"axis": {"x": "independent", "y": "independent"}},
    "layer": [
      {
        "data": {"name": "hh"},
        "mark": {"type": "circle", "size": 38, "opacity": 0.8},
        "encoding": {
          "x": {"field": "x", "type": "quantitative", "scale": {"domain": [-15, 15], "nice": false},
                "axis": {"values": [-15, -10, -5, 0, 5, 10, 15], "labelPadding": 18, "titlePadding": 3, "titleFontSize": 23, "labelExpr": "(datum.value < 0 ? '-' : '') + format(abs(datum.value), 'd')",
                         "title": "LOS Wind Speed, U sin θ cos(φ − φU) [m/s]"}},
          "y": {"field": "y", "type": "quantitative", "scale": {"domain": [-0.75, 0.75], "nice": false},
                "axis": {"values": [-0.6, -0.4, -0.2, 0, 0.2, 0.4, 0.6], "labelPadding": 13, "titlePadding": 8, "labelExpr": "datum.value == 0 ? '0' : (datum.value < 0 ? '-' : '') + format(abs(datum.value), '.1f')",
                         "title": "Doppler Centroid (DC), V_D [m/s]"}},
          "color": {"field": "r", "type": "nominal", "scale": {"domain": [1, 2, 3, 4, 5, 6, 7], "range": ["#0072BD", "#D95319", "#EDB120", "#7E2F8E", "#77AC30", "#4DBEEE", "#A2142F"]},
                    "legend": {"title": " ", "orient": "none", "legendX": 267, "legendY": 277, "labelExpr": "'Record no.' + datum.label"}}
        }
      },
      {
        "data": {"values": [{"x": -13.6, "y": 0.67, "t": "(b)"}]},
        "mark": {"type": "text", "align": "left", "baseline": "middle", "font": "DejaVu Sans", "fontSize": 17, "color": "#262626"},
        "encoding": {
          "x": {"field": "x", "type": "quantitative", "axis": {"orient": "top", "values": [-15, -10, -5, 0, 5, 10, 15], "labels": false, "title": null, "grid": false}},
          "y": {"field": "y", "type": "quantitative", "axis": {"orient": "right", "values": [-0.6, -0.4, -0.2, 0, 0.2, 0.4, 0.6], "labels": false, "title": null, "grid": false}},
          "text": {"field": "t"}
        }
      }
    ]
  }
]
}
